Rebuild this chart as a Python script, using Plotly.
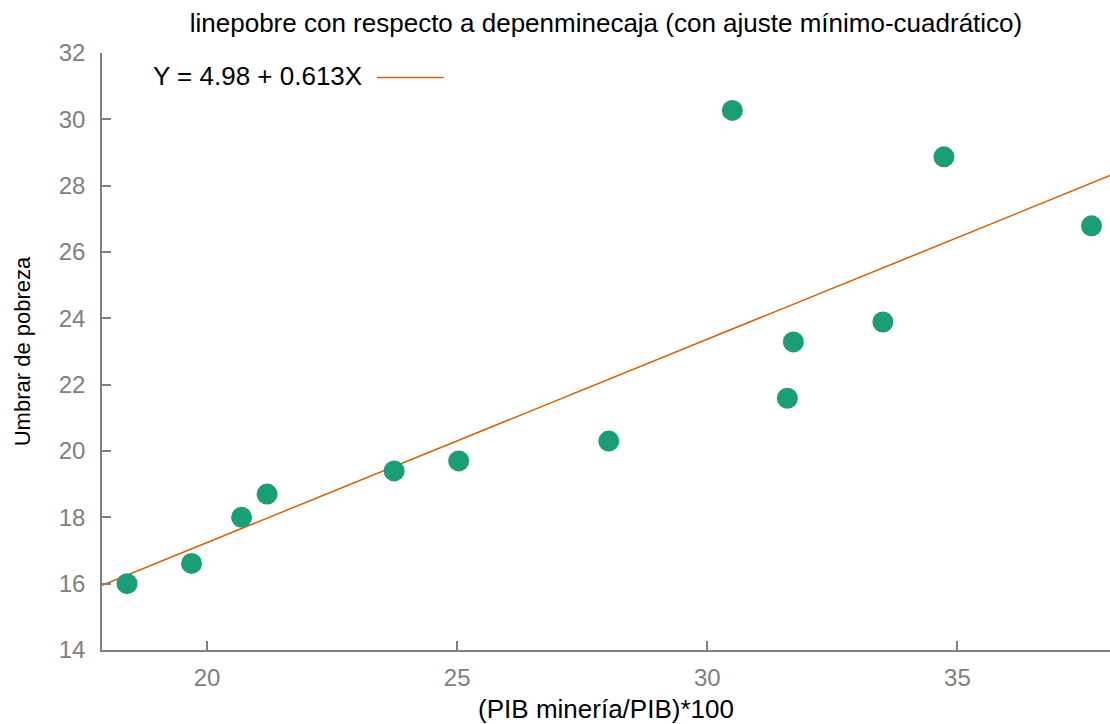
import plotly.graph_objects as go

# Observations: mining GDP share (%) vs poverty threshold
pib_mineria = [18.40, 19.69, 20.69, 21.20, 23.74, 25.03, 28.03, 30.50, 31.60, 31.72, 33.51, 34.73, 37.68]
umbral_pobreza = [16.00, 16.61, 18.00, 18.70, 19.40, 19.70, 20.30, 30.27, 21.59, 23.29, 23.89, 28.87, 26.79]

# Least-squares fit coefficients
intercepto = 4.98
pendiente = 0.613

x_range = [17.9, 38.05]
y_range = [14, 32]
x_ticks = [20, 25, 30, 35]
y_ticks = [14, 16, 18, 20, 22, 24, 26, 28, 30, 32]

FONT = "Liberation Sans"
GRIS = "#808080"
VERDE = "#1b9e77"
NARANJA = "#d95f02"

fit_x = x_range
fit_y = [intercepto + pendiente * v for v in fit_x]

fig = go.Figure()
fig.add_trace(go.Scatter(
    x=fit_x, y=fit_y, mode="lines",
    line=dict(color=NARANJA, width=1.5),
    showlegend=False, hoverinfo="skip",
))
fig.add_trace(go.Scatter(
    x=pib_mineria, y=umbral_pobreza, mode="markers",
    marker=dict(color=VERDE, size=21, line=dict(width=0)),
    showlegend=False,
))

# Key: equation text followed by a line sample
fig.add_annotation(
    xref="paper", yref="paper", x=0.049, y=0.961,
    xanchor="left", yanchor="middle", showarrow=False,
    text=f"Y = {intercepto:.2f} + {pendiente:.3f}X",
    font=dict(family=FONT, size=26, color="black"),
)
fig.add_shape(
    type="line", xref="paper", yref="paper",
    x0=0.273, x1=0.339, y0=0.959, y1=0.959,
    line=dict(color=NARANJA, width=1.5),
)

fig.update_layout(
    width=1110, height=724,
    margin=dict(l=102, r=0, t=53, b=74),
    paper_bgcolor="white", plot_bgcolor="white",
    title=dict(
        text="linepobre con respecto a depenminecaja (con ajuste mínimo-cuadrático)",
        x=0.5, xref="paper", xanchor="center",
        y=0.969, yref="container", yanchor="middle",
        font=dict(family=FONT, size=26, color="black"),
    ),
    font=dict(family=FONT),
    xaxis=dict(
        range=x_range, tickvals=x_ticks, ticks="inside", ticklen=9,
        tickcolor=GRIS, tickwidth=1.5, showline=True, linecolor=GRIS,
        linewidth=1.5, showgrid=False, zeroline=False, mirror=False,
        tickfont=dict(family=FONT, size=24, color=GRIS),
        ticklabelstandoff=5,
        title=dict(text="(PIB minería/PIB)*100", standoff=10,
                   font=dict(family=FONT, size=26, color="black")),
    ),
    yaxis=dict(
        range=y_range, tickvals=y_ticks, ticks="inside", ticklen=9,
        tickcolor=GRIS, tickwidth=1.5, showline=True, linecolor=GRIS,
        linewidth=1.5, showgrid=False, zeroline=False, mirror=False,
        tickfont=dict(family=FONT, size=24, color=GRIS),
        ticklabelstandoff=10,
        title=dict(text="Umbrar de pobreza", standoff=22,
                   font=dict(family=FONT, size=22, color="black")),
    ),
)

fig.write_html("out.html")
